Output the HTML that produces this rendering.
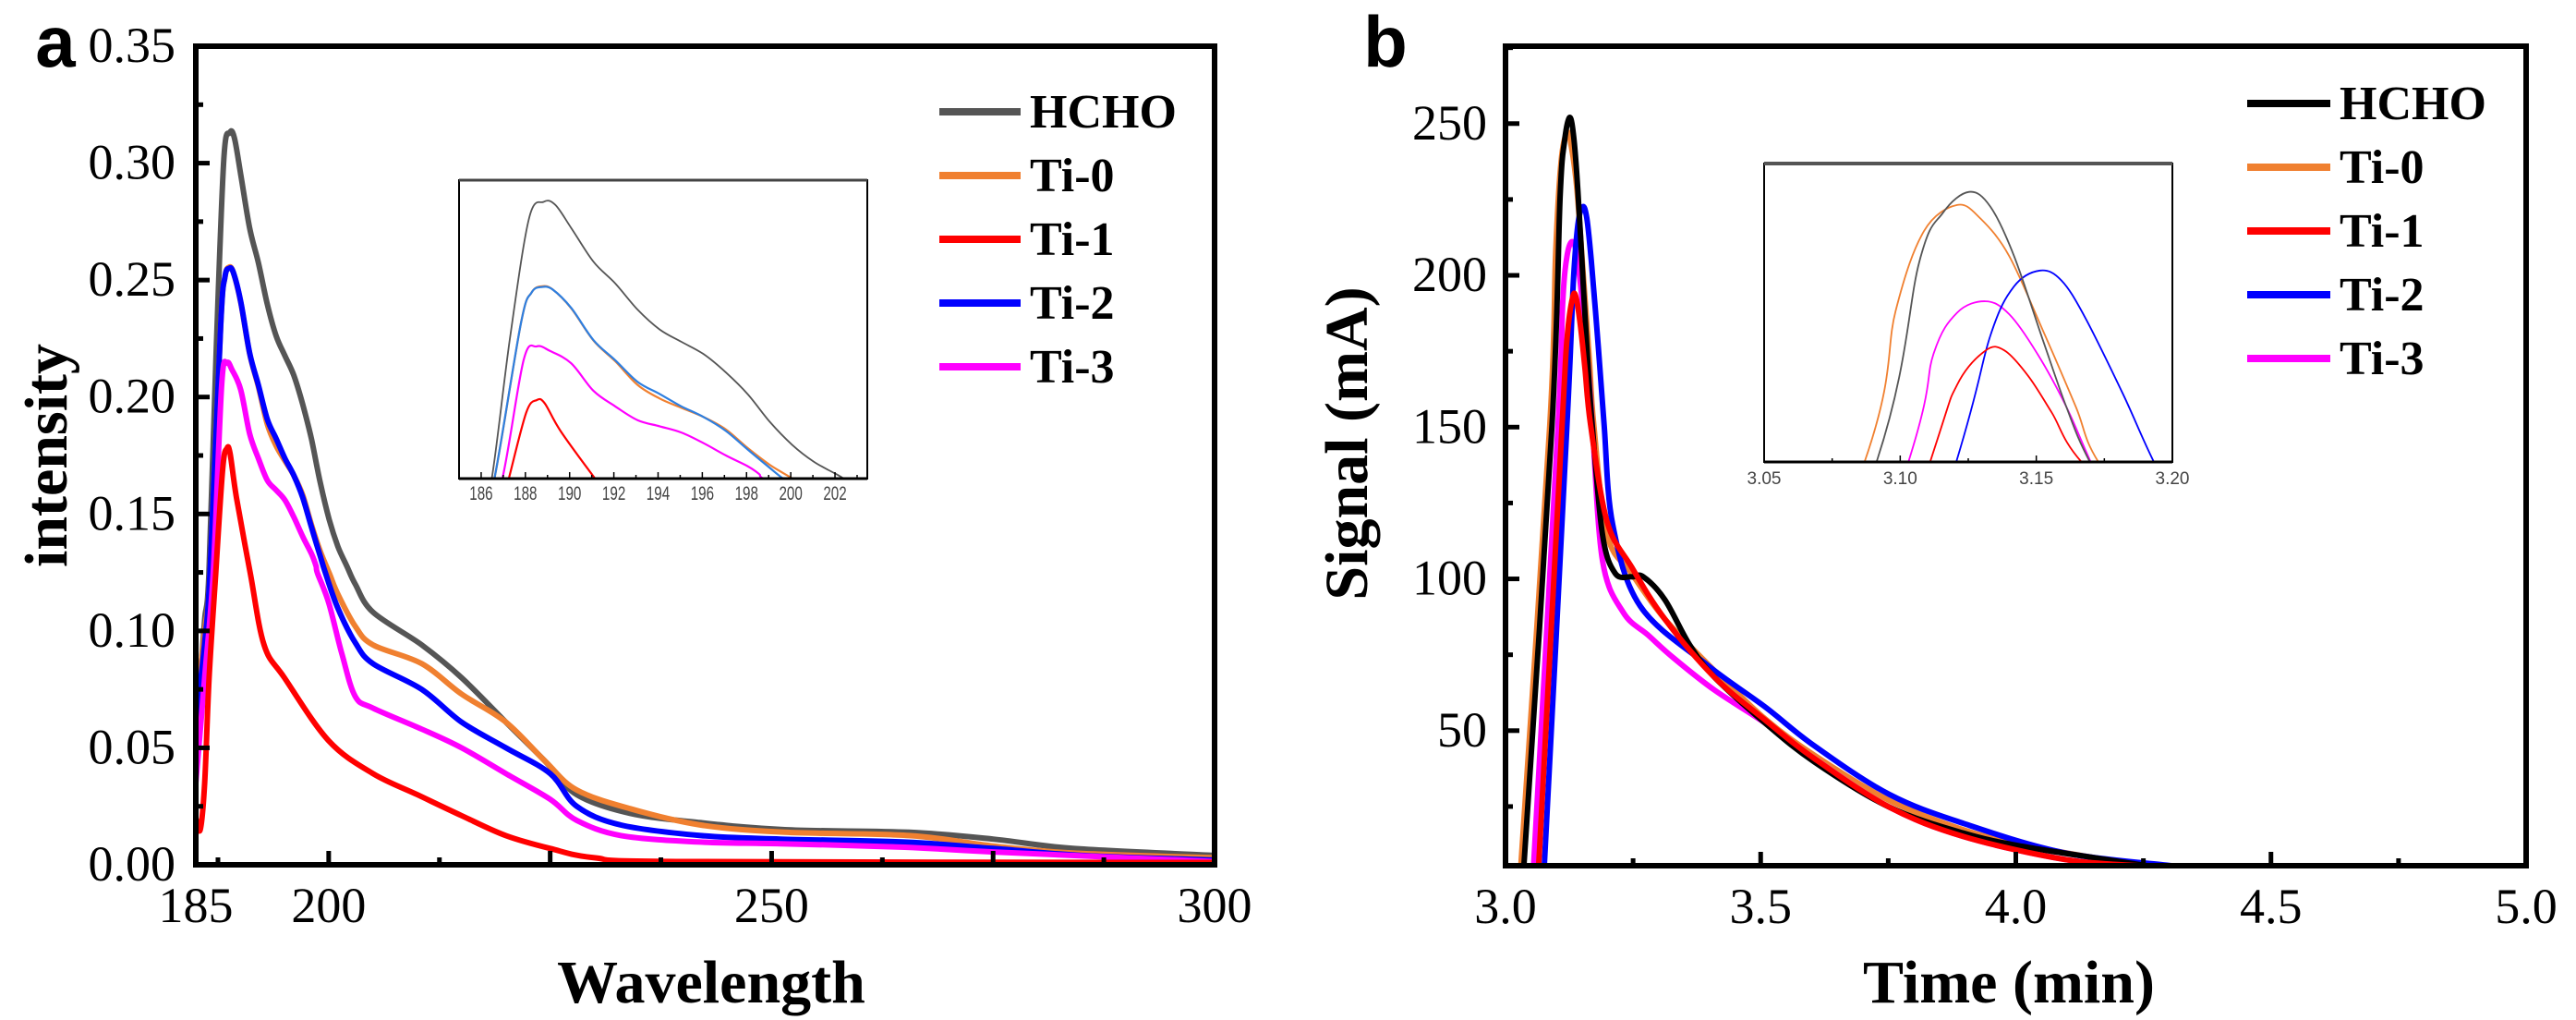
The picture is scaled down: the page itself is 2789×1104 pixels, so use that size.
<!DOCTYPE html>
<html><head><meta charset="utf-8"><style>
html,body{margin:0;padding:0;background:#fff;}
svg{display:block;font-family:"Liberation Serif",serif;}
</style></head><body>
<svg id="fig" width="2789" height="1104" viewBox="0 0 2789 1104" xmlns="http://www.w3.org/2000/svg">
<defs>
<clipPath id="clipA"><rect x="212" y="50" width="1103" height="886"/></clipPath>
<clipPath id="clipB"><rect x="1630" y="50" width="1105" height="887"/></clipPath>
<clipPath id="clipIA"><rect x="497" y="195" width="442" height="323"/></clipPath>
<clipPath id="clipIB"><rect x="1910" y="177" width="442" height="323"/></clipPath>
</defs>
<g id="layer"></g>
</svg>
<script>
// ---- Panel a data (wavelength vs intensity) ----
const hchoAx = [185,185.5,186,186.48,187.3,188.16,188.83,189.35,190.07,191.08,192.06,193.07,194.07,195.05,196.06,197.07,198.05,199.05,200.06,201.04,202.05,203,205,210.5,215,220,224.5,228,234,242,251.5,265.5,275,284,300];
const hchoAy = [0.06,0.08,0.105,0.1246,0.22,0.3015,0.313,0.3109,0.2952,0.2722,0.2575,0.2397,0.2261,0.2177,0.2093,0.1968,0.1821,0.1633,0.1476,0.1361,0.1277,0.12,0.108,0.094,0.08,0.061,0.044,0.030,0.022,0.018,0.015,0.0139,0.011,0.007,0.004];
const ti0Ax = [185,186,186.6,187.8,188.28,188.75,189.23,190.07,191.08,192.06,193.07,194.07,195.05,196.06,197.07,198.05,199.05,200.08,201,203,205,210.5,215,220,224.5,228,234,242,251.5,265.5,275,284,300];
const ti0Ay = [0.065,0.1,0.1246,0.2303,0.2512,0.2555,0.2533,0.2405,0.2185,0.2045,0.1884,0.1791,0.1728,0.1665,0.1580,0.1454,0.1340,0.1246,0.116,0.102,0.094,0.086,0.073,0.061,0.044,0.032,0.024,0.017,0.0139,0.0125,0.008,0.005,0.003];
const ti1Ax = [185,185.5,186,186.5,187.25,188.04,188.51,188.87,189.59,191.15,192.7,195,200,205,210,215,220,225,230,240,300];
const ti1Ay = [0.02,0.015,0.035,0.08,0.1246,0.1696,0.1780,0.1759,0.1570,0.1246,0.094,0.080,0.053,0.039,0.030,0.021,0.0125,0.007,0.003,0.0014,0.001];
const ti2Ax = [185,186,186.6,187.8,188.28,188.75,189.23,190.07,191.08,192.06,193.07,194.07,195.05,196.06,197.07,198.05,199.05,199.65,201,203,205,210.5,215,220,225,228,233,242,251,265,275,285,300];
const ti2Ay = [0.06,0.095,0.1246,0.2303,0.2512,0.2550,0.2533,0.2408,0.2188,0.2052,0.1905,0.1822,0.1738,0.1665,0.1570,0.1444,0.1319,0.1246,0.11,0.095,0.086,0.075,0.061,0.050,0.039,0.025,0.017,0.0125,0.011,0.0097,0.007,0.004,0.002];
const ti3Ax = [185,186,186.96,187.92,188.51,189.11,190.07,191.08,192.06,193.07,194.07,195.05,196.06,197.07,198.05,198.57,198.74,200,201.5,203,205,210.5,215,220,225,228,233,242,251,265,275,300];
const ti3Ay = [0.035,0.08,0.1246,0.2052,0.2146,0.2115,0.2031,0.1843,0.1738,0.1644,0.1602,0.1560,0.1487,0.1403,0.1330,0.1277,0.1246,0.112,0.09,0.072,0.067,0.058,0.050,0.039,0.028,0.019,0.0125,0.0097,0.009,0.0075,0.0055,0.0014];
const aXTicks = ["185","200","250","300"];
const aYTicks = ["0.00","0.05","0.10","0.15","0.20","0.25","0.30","0.35"];
const aInsetTicks = ["186","188","190","192","194","196","198","200","202"];
// ---- Panel b data (time vs signal) ----
const hchoBx = [3.036,3.0913,3.107,3.1157,3.1253,3.1331,3.1418,3.1523,3.161,3.1697,3.19,3.215,3.247,3.27,3.312,3.361,3.41,3.508,3.605,3.752,3.898,4.012,4.175,4.256];
const hchoBy = [5.5,151,225.8,244.2,252,246.5,228.1,197,171.7,151,114.6,101.8,100.7,100.7,93.2,78.2,67.5,52.6,39.7,24.8,16.2,11.9,7.6,5.5];
const ti0Bx = [3.03,3.0869,3.0983,3.1087,3.1209,3.1296,3.14,3.1523,3.1645,3.1728,3.199,3.247,3.312,3.41,3.508,3.605,3.752,3.898,4.012,4.175,4.27];
const ti0By = [5.5,151,207.4,237.3,247.1,241.9,228.1,200.5,171.7,151,114.6,101.8,86.8,69.7,54,41.9,27,17.3,12.5,7.6,5.5];
const ti1Bx = [3.065,3.111,3.1209,3.1314,3.1383,3.147,3.1557,3.1666,3.199,3.247,3.312,3.41,3.508,3.605,3.752,3.898,4.094,4.24];
const ti1By = [5.5,151,179.8,192.7,192.7,183.2,169.4,151,118.9,103.9,86.8,67.5,53.6,40.8,24.8,15.1,7.6,5.5];
const ti2Bx = [3.076,3.1206,3.1331,3.1418,3.1514,3.1592,3.1679,3.1819,3.1932,3.21,3.264,3.394,3.508,3.605,3.752,3.898,4.094,4.305];
const ti2By = [5.5,151,198.2,216.6,222.6,218.9,205.1,176.3,151,118,91,71.8,57.9,45,29,19.4,9.8,5.5];
const ti3Bx = [3.055,3.103,3.1122,3.1209,3.1314,3.1401,3.1505,3.161,3.17,3.19,3.231,3.28,3.329,3.41,3.508,3.605,3.752,3.898,4.094,4.24];
const ti3By = [5.5,151,191.3,206.8,211.1,206.2,191.3,171.7,151,106,88.9,81.4,74,63.3,52.6,40.8,24.8,15.1,7.6,5.5];
const bXTicks = ["3.0","3.5","4.0","4.5","5.0"];
const bYTicks = ["50","100","150","200","250"];
const bInsetTicks = ["3.05","3.10","3.15","3.20"];
const seriesNames = ["HCHO","Ti-0","Ti-1","Ti-2","Ti-3"];

const NS = "http://www.w3.org/2000/svg";
const layer = document.getElementById("layer");
function mk(tag, attrs, parent){ const e=document.createElementNS(NS,tag); for(const k in attrs) e.setAttribute(k,attrs[k]); (parent||layer).appendChild(e); return e; }

// axis functions
const ax = v => 212 + (v-185)/115*1103;
const ay = v => 936 - v/0.35*886;
const bx = v => 1630 + (v-3)/2*1105;
const by = v => 937 - (v-5.5)/270*887;
const iax = v => 497 + (v-185)/18.46*442;
const iay = v => 518 - (v-0.1246)/0.2031*323;
const ibx = v => 1910 + (v-3.05)/0.15*442;
const iby = v => 500 - (v-151)/111.6*323;

function pathD(xs, ys, fx, fy){
  const p = xs.map((x,i)=>[fx(x), fy(ys[i])]);
  let d = "M"+p[0][0].toFixed(1)+","+p[0][1].toFixed(1);
  for(let i=0;i<p.length-1;i++){
    const p0=p[Math.max(0,i-1)], p1=p[i], p2=p[i+1], p3=p[Math.min(p.length-1,i+2)];
    const c1=[p1[0]+(p2[0]-p0[0])/6, p1[1]+(p2[1]-p0[1])/6];
    const c2=[p2[0]-(p3[0]-p1[0])/6, p2[1]-(p3[1]-p1[1])/6];
    d += " C"+c1[0].toFixed(1)+","+c1[1].toFixed(1)+" "+c2[0].toFixed(1)+","+c2[1].toFixed(1)+" "+p2[0].toFixed(1)+","+p2[1].toFixed(1);
  }
  return d;
}
function txt(s, x, y, size, opts){
  opts = opts||{};
  const t = mk("text",{x:x,y:y,"font-size":size,"text-anchor":opts.anchor||"middle",fill:opts.fill||"#000","font-weight":opts.weight||"normal","font-family":opts.family||'"Liberation Serif",serif'});
  if(opts.rot) t.setAttribute("transform","rotate(-90 "+x+" "+y+")");
  t.textContent = s;
  return t;
}

// ================= Panel a =================
const gA = mk("g",{});


const la = txt("a", 60, 72, 78, {weight:"bold", family:'"Liberation Sans",sans-serif'});



const aSeries = [[hchoAx,hchoAy,"#555555"],[ti0Ax,ti0Ay,"#f08030"],[ti2Ax,ti2Ay,"#0000ff"],[ti3Ax,ti3Ay,"#ff00ff"],[ti1Ax,ti1Ay,"#ff0000"]];
const aNames = ["HCHO","Ti-0","Ti-2","Ti-3","Ti-1"];
const gAL = mk("g",{"clip-path":"url(#clipA)"});
aSeries.forEach((s,i)=>{
  const p = mk("path",{d:pathD(s[0],s[1],ax,ay),fill:"none",stroke:s[2],"stroke-width":6,"stroke-linejoin":"round"},gAL);
  
  
});
// frame
const fa = mk("rect",{x:212,y:50,width:1103,height:886,fill:"none",stroke:"#000","stroke-width":6});


// x ticks
for(let v=187.5; v<=300; v+=12.5){
  const major = (v>=200 && (v-200)%25===0);
  mk("line",{x1:ax(v),x2:ax(v),y1:936,y2:936-(major?15:8),stroke:"#000","stroke-width":5});
}
aXTicks.forEach(s=>{
  const t = txt(s, ax(parseFloat(s)), 998, 54);
  
  
});
for(let k=1;k<14;k++){
  const v=k*0.025;
  mk("line",{x1:212,x2:212+(k%2===0?15:8),y1:ay(v),y2:ay(v),stroke:"#000","stroke-width":5});
}
aYTicks.forEach(s=>{
  const t = txt(s, 190, ay(parseFloat(s))+17, 54, {anchor:"end"});
  
  
});
const xta = txt("Wavelength", 770, 1085, 66, {weight:"bold"});


const yta = txt("intensity", 72, 493, 66, {weight:"bold", rot:true});


// legend a
const legA = [["HCHO","#555555"],["Ti-0","#f08030"],["Ti-1","#ff0000"],["Ti-2","#0000ff"],["Ti-3","#ff00ff"]];
legA.forEach((l,i)=>{
  const y = 121 + i*69;
  const g = mk("g",{});
  
  
  mk("line",{x1:1017,x2:1105,y1:y,y2:y,stroke:l[1],"stroke-width":8},g);
  const t = mk("text",{x:1115,y:y+17,"font-size":52,"font-weight":"bold"},g);
  t.textContent = l[0];
});
// inset a
const ia = mk("rect",{x:497,y:195,width:442,height:323,fill:"#fff",stroke:"#000","stroke-width":2});


mk("line",{x1:497,x2:939,y1:195,y2:195,stroke:"#444","stroke-width":3});
const gIA = mk("g",{"clip-path":"url(#clipIA)"});
const iaCols = ["#555555","#f08030","#2e7fe0","#ff00ff","#ff0000"];
aSeries.forEach((s,i)=>{
  const p = mk("path",{d:pathD(s[0],s[1],iax,iay),fill:"none",stroke:iaCols[i],"stroke-width":i===0?1.8:2.2},gIA);
  
  
});
mk("line",{x1:497,x2:939,y1:518,y2:518,stroke:"#000","stroke-width":3});
for(let v=186; v<=203; v++){
  mk("line",{x1:iax(v),x2:iax(v),y1:518,y2:518-(v%2===0?7:4),stroke:"#000","stroke-width":1.5});
}
aInsetTicks.forEach(s=>{
  const t = txt(s, iax(parseFloat(s)), 541, 19, {fill:"#444", family:'"Liberation Sans",sans-serif'});
  t.setAttribute("transform","translate("+iax(parseFloat(s))+",0) scale(0.8,1.1) translate("+(-iax(parseFloat(s)))+",-49)");
  
  
});

// ================= Panel b =================
const lb = txt("b", 1500, 72, 78, {weight:"bold", family:'"Liberation Sans",sans-serif'});


const bSeries = [[ti0Bx,ti0By,"#f08030"],[ti3Bx,ti3By,"#ff00ff"],[ti2Bx,ti2By,"#0000ff"],[hchoBx,hchoBy,"#000000"],[ti1Bx,ti1By,"#ff0000"]];
const bNames = ["Ti-0","Ti-3","Ti-2","HCHO","Ti-1"];
const gBL = mk("g",{"clip-path":"url(#clipB)"});
bSeries.forEach((s,i)=>{
  const p = mk("path",{d:pathD(s[0],s[1],bx,by),fill:"none",stroke:s[2],"stroke-width":6,"stroke-linejoin":"round"},gBL);
  
  
});
const fb = mk("rect",{x:1630,y:50,width:1105,height:887,fill:"none",stroke:"#000","stroke-width":6});


for(let k=1;k<8;k++){
  const v=3+k*0.25;
  mk("line",{x1:bx(v),x2:bx(v),y1:937,y2:937-(k%2===0?15:8),stroke:"#000","stroke-width":5});
}
bXTicks.forEach(s=>{
  const t = txt(s, bx(parseFloat(s)), 999, 54);
  
  
});
for(let v=25; v<=275; v+=25){
  mk("line",{x1:1630,x2:1630+(v%50===0?15:8),y1:by(v),y2:by(v),stroke:"#000","stroke-width":5});
}
bYTicks.forEach(s=>{
  const t = txt(s, 1610, by(parseFloat(s))+17, 54, {anchor:"end"});
  
  
});
const xtb = txt("Time (min)", 2175, 1085, 66, {weight:"bold"});


const ytb = txt("Signal (mA)", 1480, 480, 66, {weight:"bold", rot:true});


const legB = [["HCHO","#000000"],["Ti-0","#f08030"],["Ti-1","#ff0000"],["Ti-2","#0000ff"],["Ti-3","#ff00ff"]];
legB.forEach((l,i)=>{
  const y = 112 + i*69;
  const g = mk("g",{});
  
  
  mk("line",{x1:2433,x2:2523,y1:y,y2:y,stroke:l[1],"stroke-width":8},g);
  const t = mk("text",{x:2533,y:y+17,"font-size":52,"font-weight":"bold"},g);
  t.textContent = l[0];
});
// inset b
const ib = mk("rect",{x:1910,y:177,width:442,height:323,fill:"#fff",stroke:"#000","stroke-width":2});


mk("line",{x1:1910,x2:2352,y1:177,y2:177,stroke:"#555","stroke-width":4});
const gIB = mk("g",{"clip-path":"url(#clipIB)"});
const ibCols = ["#f08030","#ff00ff","#0000ff","#555555","#ff0000"];
bSeries.forEach((s,i)=>{
  const p = mk("path",{d:pathD(s[0],s[1],ibx,iby),fill:"none",stroke:ibCols[i],"stroke-width":1.8},gIB);
  
  
});
mk("line",{x1:1910,x2:2352,y1:500,y2:500,stroke:"#000","stroke-width":3});
for(let k=0;k<=6;k++){
  const v=3.05+k*0.025;
  mk("line",{x1:ibx(v),x2:ibx(v),y1:500,y2:500-(k%2===0?7:4),stroke:"#000","stroke-width":1.5});
}
bInsetTicks.forEach(s=>{
  const t = txt(s, ibx(parseFloat(s)), 524, 19, {fill:"#444", family:'"Liberation Sans",sans-serif'});
  
  
});
</script>
</body></html>
